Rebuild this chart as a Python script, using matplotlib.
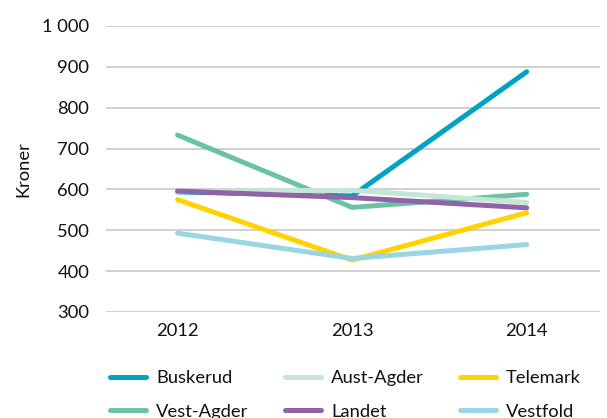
import matplotlib

matplotlib.use("Agg")

import matplotlib.pyplot as plt

YEARS = ["2012", "2013", "2014"]
BUSKERUD = [594, 584, 888]
VEST_AGDER = [733, 556, 588]
AUST_AGDER = [595, 598, 568]
TELEMARK = [575, 427, 543]
VESTFOLD = [493, 431, 465]
LANDET = [596, 580, 555]

YTICKS = [300, 400, 500, 600, 700, 800, 900, 1000]
YTICK_LABELS = ["300", "400", "500", "600", "700", "800", "900", "1 000"]

# drawing order (bottom to top) and colours
SERIES = [
    ("Buskerud", BUSKERUD, "#00a3c4"),
    ("Vest-Agder", VEST_AGDER, "#6cc2a8"),
    ("Aust-Agder", AUST_AGDER, "#c5e5d6"),
    ("Telemark", TELEMARK, "#ffd200"),
    ("Vestfold", VESTFOLD, "#99d5e3"),
    ("Landet", LANDET, "#9062a6"),
]
# legend order, column-major for ncol=3
LEGEND_ORDER = ["Buskerud", "Vest-Agder", "Aust-Agder", "Landet", "Telemark", "Vestfold"]

plt.rcParams["font.family"] = ["Lato", "DejaVu Sans"]
plt.rcParams["font.size"] = 13.2

fig = plt.figure(figsize=(6.07, 4.18), dpi=100)
ax = fig.add_axes([106 / 607, 1 - 312 / 418, (600 - 106) / 607, (312 - 26) / 418])

x = list(range(len(YEARS)))
handles = {}
for name, vals, color in SERIES:
    (ln,) = ax.plot(x, vals, color=color, linewidth=3.6, solid_capstyle="round",
                    solid_joinstyle="round", label=name, zorder=3)
    handles[name] = ln

ax.set_xlim(-0.41, 2.42)
ax.set_ylim(300, 1000)
ax.set_xticks(x)
ax.set_xticklabels(YEARS)
ax.set_yticks(YTICKS)
ax.set_yticklabels(YTICK_LABELS)
ax.yaxis.grid(True, color="#c4c4c4", linewidth=1.1)
ax.set_axisbelow(True)
for s in ax.spines.values():
    s.set_visible(False)
ax.tick_params(axis="both", length=0, labelcolor="#111111")
ax.tick_params(axis="y", pad=12)
ax.tick_params(axis="x", pad=8)
ax.set_ylabel("Kroner", labelpad=8, color="#111111")

leg = fig.legend([handles[n] for n in LEGEND_ORDER], LEGEND_ORDER, ncol=3,
                 loc="upper left", bbox_to_anchor=(103 / 607, 1 - 363 / 418),
                 frameon=False, handlelength=1.95, handletextpad=0.55,
                 columnspacing=2.0, labelspacing=0.95, borderaxespad=0)
for t in leg.get_texts():
    t.set_color("#111111")

fig.savefig("out.png", dpi=100)
